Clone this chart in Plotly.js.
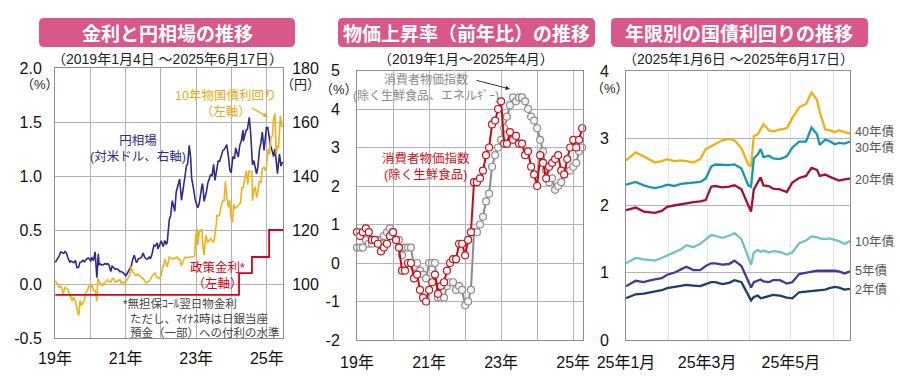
<!DOCTYPE html>
<html><head><meta charset="utf-8">
<script src="https://cdn.plot.ly/plotly-3.0.1.min.js"></script>
<style>html,body{margin:0;padding:0;background:#fff}#chart{width:900px;height:380px}</style>
</head><body><div id="chart"></div>
<script>
// ---------- Panel 1: interest rates and yen ----------
const fxDates = ['2019-01-04','2019-01-15','2019-02-01','2019-02-15','2019-03-01','2019-03-15','2019-04-01','2019-04-15','2019-05-01','2019-05-15','2019-06-03','2019-06-14','2019-07-01','2019-07-15','2019-08-01','2019-08-15','2019-09-02','2019-09-16','2019-10-01','2019-10-15','2019-11-01','2019-11-15','2019-12-02','2019-12-16',
'2020-01-06','2020-01-15','2020-02-03','2020-02-20','2020-03-09','2020-03-24','2020-04-01','2020-04-15','2020-05-01','2020-05-15','2020-06-01','2020-06-15','2020-07-01','2020-07-15','2020-07-31','2020-08-14','2020-09-01','2020-09-15','2020-10-01','2020-10-15','2020-11-02','2020-11-16','2020-12-01','2020-12-15',
'2021-01-04','2021-01-15','2021-02-01','2021-02-15','2021-03-01','2021-03-15','2021-03-31','2021-04-15','2021-04-23','2021-05-14','2021-06-01','2021-06-15','2021-07-01','2021-07-15','2021-08-02','2021-08-16','2021-09-01','2021-09-15','2021-10-01','2021-10-20','2021-11-01','2021-11-24','2021-12-01','2021-12-15',
'2022-01-04','2022-01-24','2022-02-10','2022-02-24','2022-03-07','2022-03-28','2022-04-12','2022-04-28','2022-05-12','2022-05-24','2022-06-08','2022-06-22','2022-07-14','2022-08-02','2022-08-16','2022-09-01','2022-09-22','2022-10-05','2022-10-21','2022-11-04','2022-11-15','2022-12-01','2022-12-20',
'2023-01-16','2023-02-01','2023-02-28','2023-03-08','2023-03-24','2023-04-14','2023-05-01','2023-05-30','2023-06-15','2023-06-30','2023-07-14','2023-08-01','2023-08-16','2023-09-01','2023-09-20','2023-10-03','2023-10-20','2023-11-13','2023-12-01','2023-12-15','2023-12-28',
'2024-01-16','2024-02-01','2024-02-14','2024-03-11','2024-03-27','2024-04-12','2024-04-29','2024-05-03','2024-05-15','2024-05-30','2024-06-14','2024-07-03','2024-07-17','2024-08-05','2024-08-20','2024-09-06','2024-09-16','2024-10-01','2024-10-15','2024-10-31','2024-11-15','2024-12-03','2024-12-18','2024-12-27',
'2025-01-10','2025-01-27','2025-02-07','2025-02-27','2025-03-11','2025-03-26','2025-04-09','2025-04-21','2025-05-02','2025-05-12','2025-05-27','2025-06-06','2025-06-17'];
const fxRate = [108.0,108.6,109.5,110.5,111.9,111.5,111.3,112.0,111.4,109.6,108.1,108.5,108.3,107.9,108.7,106.1,106.2,108.0,108.1,108.8,108.2,108.8,109.5,109.6,
108.4,109.9,108.7,111.9,102.3,111.2,107.2,107.4,107.0,107.1,107.6,107.3,107.5,106.9,104.6,106.6,105.9,105.5,105.5,105.4,104.6,104.6,104.3,103.7,
103.1,103.8,104.9,105.3,106.7,109.1,110.7,108.8,107.9,109.4,109.5,110.1,111.5,110.0,109.3,109.2,110.0,109.4,111.1,114.3,114.0,115.2,113.0,114.1,
116.0,113.9,116.1,114.8,115.2,123.7,125.4,130.9,129.0,126.9,134.1,136.2,138.9,131.0,134.3,139.4,143.7,144.6,151.4,147.0,139.1,136.0,131.5,
128.2,129.8,136.2,137.2,130.6,133.7,137.4,140.4,140.2,144.3,138.4,143.3,145.5,145.5,148.2,149.4,149.9,151.6,147.0,142.2,141.2,
147.2,146.4,150.4,147.0,151.4,153.1,157.0,152.9,154.9,156.8,157.4,161.7,156.1,144.2,145.7,142.9,140.8,143.6,149.3,152.3,156.3,149.5,153.6,157.9,
158.0,154.5,151.4,149.1,147.2,150.0,146.0,140.9,145.0,148.1,143.6,144.9,144.6];

const jgb10Dates = ['2019-01-04','2019-01-15','2019-02-01','2019-02-15','2019-03-01','2019-03-15','2019-03-26','2019-04-15','2019-05-01','2019-05-15','2019-05-31','2019-06-14','2019-06-28','2019-07-12','2019-07-31','2019-08-15','2019-08-30','2019-09-05','2019-09-17','2019-10-01','2019-10-15','2019-11-01','2019-11-15','2019-12-02','2019-12-16',
'2020-01-06','2020-01-15','2020-02-03','2020-02-20','2020-03-09','2020-03-19','2020-04-01','2020-04-15','2020-05-01','2020-05-15','2020-06-01','2020-06-15','2020-07-01','2020-07-15','2020-08-03','2020-08-17','2020-09-01','2020-09-15','2020-10-01','2020-10-15','2020-11-02','2020-11-16','2020-12-01','2020-12-15',
'2021-01-04','2021-01-15','2021-02-01','2021-02-15','2021-02-26','2021-03-15','2021-04-01','2021-04-15','2021-05-06','2021-05-20','2021-06-07','2021-06-21','2021-07-05','2021-07-19','2021-08-03','2021-08-17','2021-09-01','2021-09-15','2021-10-01','2021-10-15','2021-11-01','2021-11-15','2021-12-01','2021-12-15',
'2022-01-04','2022-01-17','2022-02-01','2022-02-10','2022-02-24','2022-03-08','2022-03-28','2022-04-15','2022-05-02','2022-05-16','2022-06-01','2022-06-15','2022-07-01','2022-07-15','2022-08-01','2022-08-15','2022-09-01','2022-09-15','2022-10-03','2022-10-17','2022-11-01','2022-11-15','2022-12-01','2022-12-16','2022-12-20','2022-12-28',
'2023-01-13','2023-01-18','2023-02-01','2023-02-15','2023-03-01','2023-03-13','2023-03-24','2023-04-10','2023-04-28','2023-05-15','2023-06-01','2023-06-15','2023-07-03','2023-07-28','2023-08-03','2023-08-17','2023-09-01','2023-09-15','2023-10-02','2023-10-16','2023-10-31','2023-11-15','2023-12-01','2023-12-12','2023-12-28',
'2024-01-10','2024-01-24','2024-02-07','2024-02-21','2024-03-06','2024-03-19','2024-04-03','2024-04-17','2024-05-01','2024-05-22','2024-06-03','2024-06-17','2024-07-01','2024-07-12','2024-07-31','2024-08-05','2024-08-19','2024-09-02','2024-09-17','2024-10-01','2024-10-15','2024-11-01','2024-11-15','2024-12-02','2024-12-16','2024-12-30',
'2025-01-14','2025-01-28','2025-02-12','2025-02-27','2025-03-12','2025-03-27','2025-04-07','2025-04-21','2025-05-02','2025-05-21','2025-06-04','2025-06-17'];
const jgb10Yield = [0.03,0.01,-0.01,-0.03,-0.02,-0.04,-0.09,-0.03,-0.04,-0.05,-0.10,-0.12,-0.16,-0.12,-0.16,-0.24,-0.28,-0.29,-0.15,-0.20,-0.17,-0.15,-0.08,-0.06,-0.02,
-0.03,0.00,-0.06,-0.06,-0.16,0.05,0.02,0.01,-0.02,0.00,0.01,0.03,0.04,0.02,0.02,0.05,0.05,0.02,0.02,0.03,0.04,0.01,0.02,0.01,
0.02,0.04,0.06,0.10,0.16,0.11,0.10,0.08,0.09,0.08,0.07,0.05,0.05,0.02,0.01,0.02,0.03,0.04,0.07,0.09,0.10,0.07,0.06,0.05,
0.08,0.15,0.18,0.23,0.19,0.16,0.25,0.24,0.23,0.24,0.24,0.25,0.23,0.23,0.17,0.20,0.24,0.25,0.24,0.25,0.25,0.25,0.25,0.26,0.41,0.45,
0.51,0.36,0.48,0.50,0.51,0.33,0.27,0.45,0.39,0.40,0.42,0.40,0.39,0.55,0.64,0.63,0.64,0.72,0.77,0.77,0.95,0.79,0.71,0.78,0.61,
0.57,0.74,0.70,0.71,0.72,0.74,0.75,0.89,0.89,1.00,1.05,0.92,1.05,1.04,1.04,0.77,0.87,0.90,0.80,0.86,0.95,0.94,1.07,1.08,1.05,1.10,
1.25,1.20,1.36,1.37,1.53,1.58,1.20,1.28,1.26,1.56,1.46,1.46];

const policyDates = ['2019-01-04','2024-03-19','2024-07-31','2025-01-24','2025-06-17'];
const policyRate  = [-0.1, 0.1, 0.25, 0.5, 0.5];

const p1YenTicks = [100,120,140,160,180];
const p1YenText = ['100','120','140','160','180'];
const p1RateTicks = [-0.5,0,0.5,1,1.5,2];
const p1RateText = ['-0.5','0.0','0.5','1.0','1.5','2.0'];
const p1XTicks = ['2019-01-01','2020-01-01','2021-01-01','2022-01-01','2023-01-01','2024-01-01','2025-01-01'];
const p1XText = ['19年','','21年','','23年','','25年'];

// ---------- Panel 2: CPI (monthly, Jan 2019 - Apr 2025) ----------
const cpiCore = [0.8,0.7,0.8,0.9,0.8,0.6,0.6,0.5,0.3,0.4,0.5,0.7,
0.8,0.6,0.4,-0.2,-0.2,0.0,0.0,-0.4,-0.3,-0.7,-0.9,-1.0,
-0.7,-0.5,-0.3,-0.8,-0.6,-0.5,-0.2,0.0,0.1,0.1,0.5,0.5,
0.2,0.6,0.8,2.1,2.1,2.2,2.4,2.8,3.0,3.6,3.7,4.0,
4.2,3.1,3.1,3.4,3.2,3.3,3.1,3.1,2.8,2.9,2.5,2.3,
2.0,2.8,2.6,2.2,2.5,2.6,2.7,2.8,2.4,2.3,2.7,3.0,
3.2,3.0,3.2,3.5];
const cpiCoreCore = [0.4,0.4,0.4,0.6,0.5,0.5,0.6,0.6,0.5,0.7,0.8,0.9,
0.8,0.6,0.6,0.2,0.4,0.4,0.4,-0.1,0.0,-0.2,-0.3,-0.4,
0.0,0.0,0.0,-0.9,-0.9,-0.9,-0.6,-0.5,-0.5,-0.7,-0.6,-0.7,
-1.1,-1.0,-0.7,0.8,0.8,1.0,1.2,1.6,1.8,2.5,2.8,3.0,
3.2,3.5,3.8,4.1,4.3,4.2,4.3,4.3,4.2,4.0,3.8,3.7,
3.5,3.2,2.9,2.4,2.1,2.2,1.9,2.0,2.1,2.3,2.4,2.4,
2.5,2.6,2.9,3.0];
const cpiMonths = [];
for (let i = 0; i < cpiCore.length; i++) {
  const yr = 2019 + Math.floor(i / 12), mo = (i % 12) + 1;
  cpiMonths.push(yr + '-' + String(mo).padStart(2, '0') + '-01');
}
const p2YTicks = [-2,-1,0,1,2,3,4,5];
const p2YText = ['-2','-1','0','1','2','3','4','5'];
const p2XTicks = ['2019-01-01','2020-01-01','2021-01-01','2022-01-01','2023-01-01','2024-01-01','2025-01-01'];
const p2XText = ['19年','','21年','','23年','','25年'];

// ---------- Panel 3: JGB yields by maturity ----------
const jgbCurveDates = ['2025-01-01','2025-01-08','2025-01-14','2025-01-17','2025-01-22','2025-01-27','2025-01-31','2025-02-05','2025-02-10','2025-02-14','2025-02-19','2025-02-24','2025-02-28','2025-03-04','2025-03-07','2025-03-12','2025-03-17','2025-03-21','2025-03-26','2025-03-31','2025-04-02','2025-04-04','2025-04-07','2025-04-09','2025-04-11','2025-04-15','2025-04-18','2025-04-23','2025-04-28','2025-05-02','2025-05-07','2025-05-12','2025-05-16','2025-05-20','2025-05-22','2025-05-26','2025-05-29','2025-06-02','2025-06-05','2025-06-09','2025-06-13'];
const yield40 = [2.67,2.79,2.73,2.70,2.64,2.66,2.69,2.66,2.67,2.66,2.64,2.69,2.84,2.88,2.91,2.97,2.99,2.97,2.85,2.61,2.58,3.03,3.06,3.13,3.21,3.12,3.10,3.13,3.15,3.30,3.46,3.51,3.68,3.57,3.39,3.13,3.12,3.09,3.12,3.09,3.07];
const yield30 = [2.31,2.35,2.30,2.28,2.26,2.28,2.31,2.29,2.32,2.33,2.34,2.35,2.40,2.58,2.61,2.60,2.60,2.61,2.55,2.30,2.28,2.70,2.76,2.84,2.72,2.74,2.70,2.69,2.73,2.86,2.95,2.95,3.16,3.06,2.90,2.98,2.96,2.91,2.93,2.92,2.95];
const yield20 = [1.93,1.97,1.91,1.90,1.89,1.92,1.98,2.00,2.02,2.04,2.05,2.06,2.08,2.28,2.29,2.27,2.28,2.30,2.24,2.00,1.91,2.24,2.34,2.42,2.30,2.29,2.25,2.24,2.20,2.34,2.41,2.44,2.56,2.53,2.44,2.46,2.43,2.40,2.37,2.39,2.40];
const yield10 = [1.14,1.22,1.20,1.19,1.18,1.22,1.26,1.30,1.35,1.41,1.38,1.43,1.50,1.56,1.55,1.52,1.55,1.59,1.50,1.22,1.12,1.30,1.34,1.31,1.33,1.30,1.32,1.31,1.27,1.30,1.44,1.48,1.54,1.53,1.51,1.50,1.51,1.49,1.47,1.43,1.47];
const yield5  = [0.80,0.88,0.86,0.88,0.90,0.92,0.97,1.00,1.05,1.09,1.04,1.04,1.10,1.14,1.14,1.12,1.13,1.18,1.10,0.88,0.78,0.86,0.88,0.90,0.87,0.86,0.89,0.89,0.84,0.86,0.98,1.00,1.02,1.03,1.03,1.03,1.04,1.03,1.02,0.99,1.02];
const yield2  = [0.62,0.68,0.69,0.70,0.72,0.74,0.77,0.79,0.81,0.82,0.81,0.80,0.83,0.86,0.86,0.83,0.85,0.89,0.86,0.66,0.59,0.64,0.66,0.62,0.63,0.65,0.67,0.66,0.63,0.62,0.71,0.72,0.73,0.74,0.75,0.75,0.77,0.79,0.78,0.75,0.76];
const maturityNames = ['40年債','30年債','20年債','10年債','5年債','2年債'];
const p3YTicks = [0,1,2,3,4];
const p3YText = ['0','1','2','3','4'];
const p3XTicks = ['2025-01-01','2025-03-01','2025-05-01'];
const p3XText = ['25年1月','25年3月','25年5月'];
const p3MinorTicks = ['2025-02-01','2025-04-01','2025-06-01'];

// ---------- layout helpers (pixel -> paper) ----------
const W = 900, H = 380;
const PX = x => x / W, PY = y => 1 - y / H;
const FONT = 'Liberation Sans, Arial, Noto Sans CJK JP, sans-serif';
const TITLEFONT = 'Noto Sans CJK JP, sans-serif';
const GRID = '#b3b3b3', FRAME = '#8e8e8e';

function txt(text, x, y, size, color, extra) {
  return Object.assign({text: text, x: PX(x), y: PY(y), xref: 'paper', yref: 'paper',
    xanchor: 'center', yanchor: 'middle', showarrow: false,
    font: {family: FONT, size: size, color: color}}, extra || {});
}
function roundRect(x0, y0, x1, y1, r) {
  const p = (x, y) => PX(x) + ',' + PY(y);
  return 'M' + p(x0 + r, y0) + ' L' + p(x1 - r, y0) + ' Q' + p(x1, y0) + ' ' + p(x1, y0 + r) +
    ' L' + p(x1, y1 - r) + ' Q' + p(x1, y1) + ' ' + p(x1 - r, y1) +
    ' L' + p(x0 + r, y1) + ' Q' + p(x0, y1) + ' ' + p(x0, y1 - r) +
    ' L' + p(x0, y0 + r) + ' Q' + p(x0, y0) + ' ' + p(x0 + r, y0) + ' Z';
}
const BANNER = '#d9588b';

const traces = [
  {x: fxDates, y: fxRate, xaxis: 'x', yaxis: 'y', mode: 'lines', line: {color: '#2f2b88', width: 1.6}},
  {x: jgb10Dates, y: jgb10Yield, xaxis: 'x', yaxis: 'y4', mode: 'lines', line: {color: '#efb21c', width: 1.6}},
  {x: policyDates, y: policyRate, xaxis: 'x', yaxis: 'y4', mode: 'lines', line: {color: '#d8001a', width: 1.8, shape: 'hv'}},
  {x: cpiMonths, y: cpiCoreCore, xaxis: 'x2', yaxis: 'y2', mode: 'lines+markers', cliponaxis: false,
   line: {color: '#8a8a8a', width: 2}, marker: {symbol: 'circle', size: 7, color: '#f3f3f3', line: {color: '#8f8f8f', width: 1.2}}},
  {x: cpiMonths, y: cpiCore, xaxis: 'x2', yaxis: 'y2', mode: 'lines+markers', cliponaxis: false,
   line: {color: '#cc0a14', width: 2}, marker: {symbol: 'circle', size: 7, color: '#ffffff', line: {color: '#d0101a', width: 1.2}}},
];
const curveSeries = [yield40, yield30, yield20, yield10, yield5, yield2];
const curveColors = ['#eeb114', '#1797ae', '#a80e30', '#70c1d0', '#443b98', '#183f6d'];
curveSeries.forEach((s, i) => traces.push({x: jgbCurveDates, y: s, xaxis: 'x3', yaxis: 'y3', mode: 'lines',
  name: maturityNames[i], line: {color: curveColors[i], width: 2.3}}));

const axisBase = {showline: true, linecolor: FRAME, linewidth: 1, mirror: true, ticks: '', zeroline: false,
  showgrid: true, gridcolor: GRID, gridwidth: 1, tickfont: {family: FONT, size: 16, color: '#111'}, fixedrange: true};

const layout = {
  width: W, height: H, margin: {l: 0, r: 0, t: 0, b: 0}, paper_bgcolor: '#fff', plot_bgcolor: '#fff',
  showlegend: false, font: {family: FONT},
  xaxis: Object.assign({}, axisBase, {domain: [PX(55), PX(283)], anchor: 'y', type: 'date',
    range: ['2019-01-01', '2025-06-17'], tickmode: 'array', tickvals: p1XTicks, ticktext: p1XText, ticklabelstandoff: 6}),
  yaxis: Object.assign({}, axisBase, {domain: [PY(338), PY(68)], anchor: 'x', side: 'right', range: [80, 180],
    tickmode: 'array', tickvals: [80].concat(p1YenTicks), ticktext: [''].concat(p1YenText), ticklabelstandoff: 5}),
  yaxis4: Object.assign({}, axisBase, {overlaying: 'y', anchor: 'x', side: 'left', range: [-0.5, 2], showgrid: false,
    tickmode: 'array', tickvals: p1RateTicks, ticktext: p1RateText, ticklabelstandoff: 9}),
  xaxis2: Object.assign({}, axisBase, {domain: [PX(357), PX(583)], anchor: 'y2', type: 'date',
    range: ['2019-01-01', '2025-04-10'], tickmode: 'array', tickvals: p2XTicks, ticktext: p2XText, ticklabelstandoff: 8}),
  yaxis2: Object.assign({}, axisBase, {domain: [PY(340), PY(70.5)], anchor: 'x2', range: [-2, 5],
    tickmode: 'array', tickvals: p2YTicks, ticktext: p2YText, ticklabelstandoff: 13}),
  xaxis3: Object.assign({}, axisBase, {domain: [PX(626), PX(850)], anchor: 'y3', type: 'date',
    range: ['2025-01-01', '2025-06-13'], tickmode: 'array', tickvals: p3XTicks, ticktext: p3XText,
    gridcolor: '#e4e4e4', ticklabelstandoff: 8,
    minor: {tickmode: 'array', tickvals: p3MinorTicks, showgrid: true, gridcolor: '#e4e4e4', ticks: ''}}),
  yaxis3: Object.assign({}, axisBase, {domain: [PY(340), PY(71)], anchor: 'x3', range: [0, 4],
    tickmode: 'array', tickvals: p3YTicks, ticktext: p3YText, ticklabelstandoff: 13}),
  shapes: [
    {type: 'path', xref: 'paper', yref: 'paper', path: roundRect(39, 18, 295, 47, 5), fillcolor: BANNER, line: {width: 0}, layer: 'below'},
    {type: 'path', xref: 'paper', yref: 'paper', path: roundRect(338, 18, 595, 47, 5), fillcolor: BANNER, line: {width: 0}, layer: 'below'},
    {type: 'path', xref: 'paper', yref: 'paper', path: roundRect(611, 18, 868, 47, 5), fillcolor: BANNER, line: {width: 0}, layer: 'below'}
  ],
  annotations: [
    txt('<b>金利と円相場の推移</b>', 167, 32.5, 19, '#fff', {font: {family: TITLEFONT, size: 19, color: '#fff'}}),
    txt('<b>物価上昇率（前年比）の推移</b>', 466, 32.5, 19, '#fff', {font: {family: TITLEFONT, size: 19, color: '#fff'}}),
    txt('<b>年限別の国債利回りの推移</b>', 739, 32.5, 19, '#fff', {font: {family: TITLEFONT, size: 19, color: '#fff'}}),
    txt('（2019年1月4日 ～2025年6月17日）', 167, 59, 14, '#222'),
    txt('（2019年1月～2025年4月）', 466, 59, 14, '#222'),
    txt('（2025年1月6日 ～2025年6月17日）', 738, 59, 14, '#222'),
    // panel 1
    txt('（%）', 40, 84, 13, '#222'),
    txt('（円）', 300, 84, 13, '#222'),
    txt('10年物国債利回り<br>（左軸）', 225, 104, 12.5, '#e9a80f'),
    {x: PX(268), y: PY(117), xref: 'paper', yref: 'paper', text: '', showarrow: true, ax: -18, ay: -10,
     arrowcolor: '#e9a80f', arrowwidth: 1.2, arrowhead: 2, arrowsize: 0.8},
    txt('円相場<br>(対米ドル、右軸)', 138, 149.5, 12.5, '#2f2b88'),
    txt('政策金利*<br>（左軸）', 217, 275, 12.5, '#d8001a'),
    txt('*無担保ｺｰﾙ翌日物金利', 121, 303, 11.5, '#444', {xanchor: 'left'}),
    txt('ただし、ﾏｲﾅｽ時は日銀当座', 128, 318, 11.5, '#444', {xanchor: 'left'}),
    txt('預金（一部）への付利の水準', 128, 332, 11.5, '#444', {xanchor: 'left'}),
    // panel 2
    txt('（%）', 339, 90, 13, '#222'),
    txt('消費者物価指数<br>(除く生鮮食品、エネルｷﾞｰ)', 426, 87.5, 12, '#8a8a8a'),
    {x: PX(510), y: PY(89), xref: 'paper', yref: 'paper', text: '', showarrow: true, ax: -35, ay: -9,
     arrowcolor: '#333', arrowwidth: 1, arrowhead: 2, arrowsize: 0.9},
    txt('消費者物価指数<br>(除く生鮮食品)', 426, 166.5, 12.5, '#d0101a'),
    // panel 3
    txt('（%）', 610, 88, 13, '#222'),
    txt(maturityNames[0] + '<br>' + maturityNames[1], 853, 139, 12.5, '#555', {xanchor: 'left', align: 'left'}),
    txt(maturityNames[2], 853, 180, 12.5, '#555', {xanchor: 'left'}),
    txt(maturityNames[3], 853, 241, 12.5, '#555', {xanchor: 'left'}),
    txt(maturityNames[4], 853, 270, 12.5, '#555', {xanchor: 'left'}),
    txt(maturityNames[5], 853, 289, 12.5, '#555', {xanchor: 'left'})
  ]
};

Plotly.newPlot('chart', traces, layout, {staticPlot: true, displayModeBar: false});
</script></body></html>
